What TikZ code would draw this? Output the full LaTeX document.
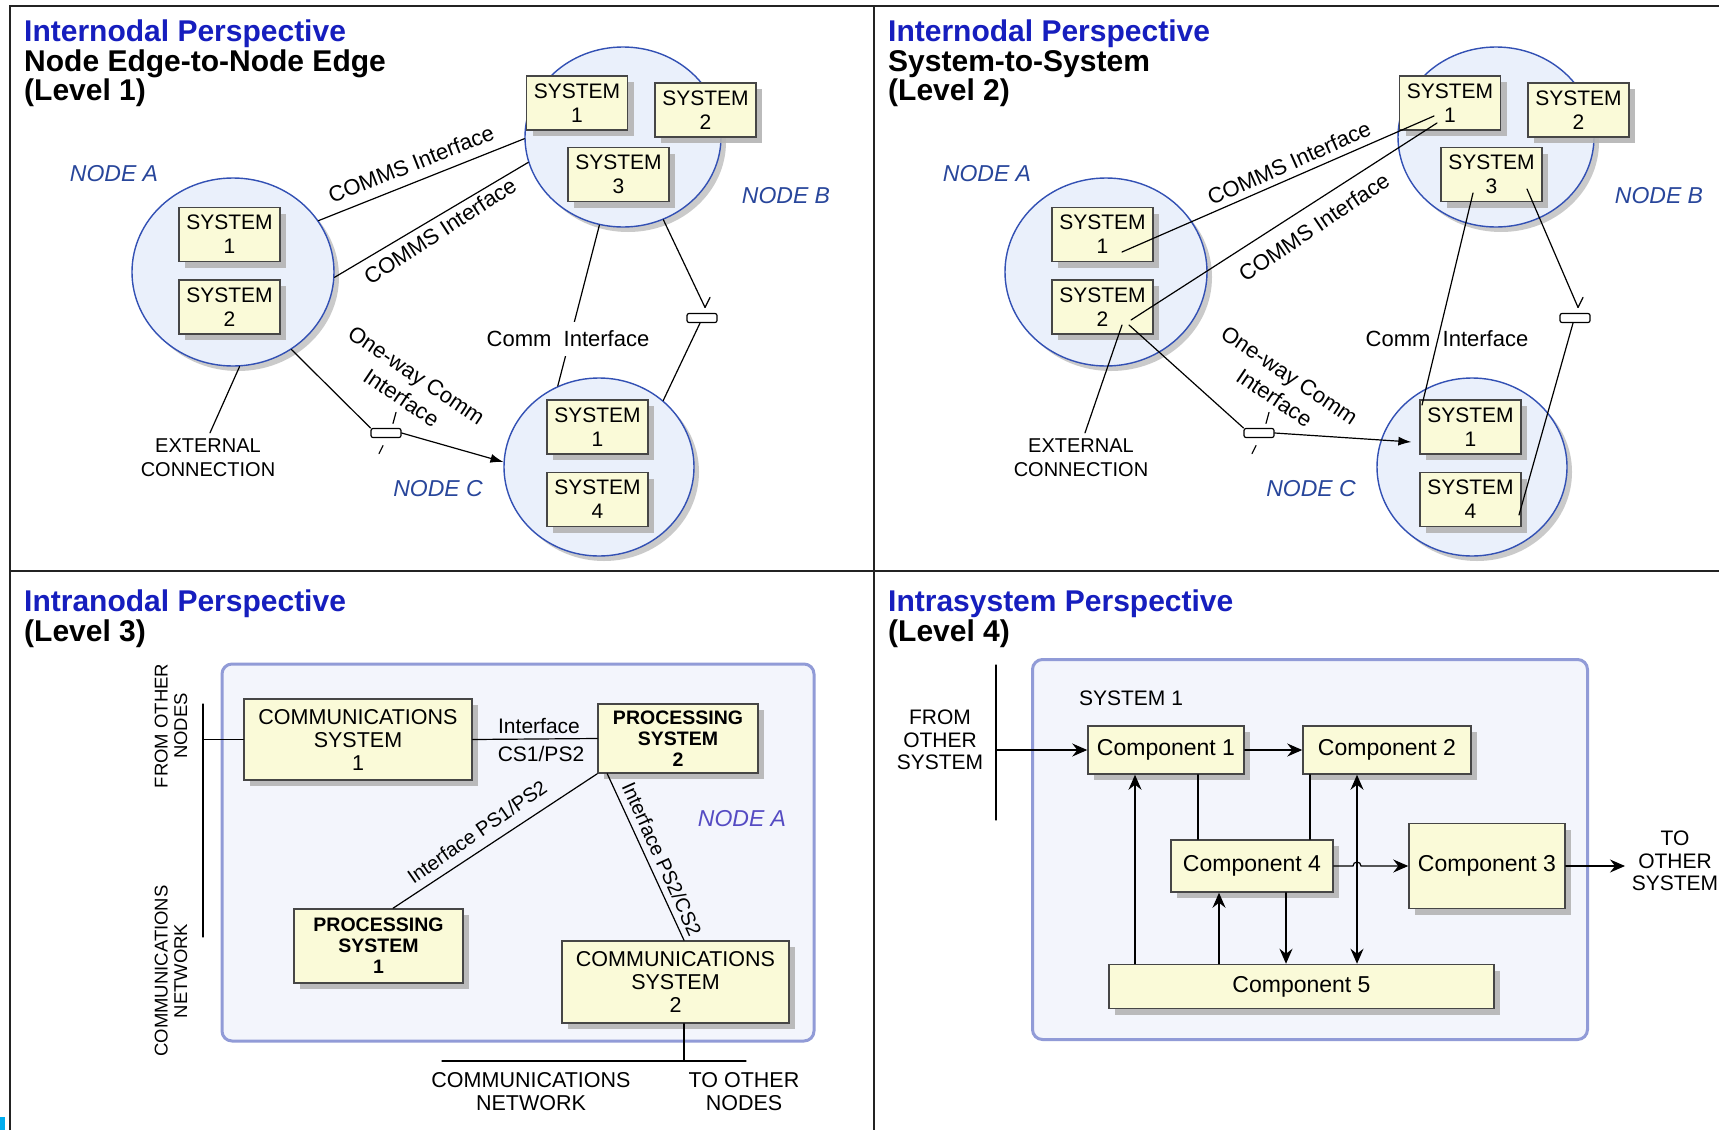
\documentclass[tikz,border=0pt]{standalone}
\usepackage{fontspec}
\setmainfont{Liberation Sans}
\usetikzlibrary{shapes.geometric,calc,arrows.meta,shadows}

\definecolor{boxfill}{RGB}{250,250,216}
\definecolor{boxedge}{RGB}{70,70,70}
\definecolor{shadowgray}{RGB}{180,180,180}
\definecolor{circfill}{RGB}{234,240,251}
\definecolor{circedge}{RGB}{50,80,180}
\definecolor{bigfill}{RGB}{243,245,252}
\definecolor{bigedge}{RGB}{145,155,215}
\definecolor{ttlblue}{RGB}{22,30,190}
\definecolor{nodeblue}{RGB}{40,70,155}
\definecolor{nodeviolet}{RGB}{85,75,195}
\definecolor{framegray}{RGB}{35,35,35}

\newcommand\ttlfnt{\fontsize{30}{30}\selectfont\bfseries}
\newcommand\sysfnt{\fontsize{21}{24}\selectfont}
\newcommand\lblfnt{\fontsize{22}{27}\selectfont}
\newcommand\extfnt{\fontsize{20}{24}\selectfont}
\newcommand\nodefnt{\fontsize{23}{23}\selectfont\itshape}
\newcommand\cmpfnt{\fontsize{23}{23}\selectfont}
\newcommand\commfnt{\fontsize{21.5}{23}\selectfont}
\newcommand\procfnt{\fontsize{19.5}{21}\selectfont\bfseries}
\newcommand\vertfnt{\fontsize{18.5}{19.5}\selectfont}
\newcommand\ioffnt{\fontsize{21}{22.5}\selectfont}

\tikzset{
  ttl/.style={anchor=base west, inner sep=0pt, font=\ttlfnt},
  conn/.style={line width=1.2pt, line cap=round},
  arr/.style={conn, -{Stealth[length=15pt,width=13pt,inset=5pt]}},
  owarr/.style={conn, -{Latex[length=13pt,width=9pt]}},
  lbl/.style={inner sep=0pt, font=\lblfnt, align=center},
  nodelbl/.style={inner sep=0pt, font=\nodefnt, text=nodeblue},
  boxshadow/.style={drop shadow={shadow xshift=6pt, shadow yshift=-6pt, fill=shadowgray, opacity=0.9}},
  sysbox/.style={draw=boxedge, fill=boxfill, line width=1.3pt, minimum width=101pt,
    minimum height=54pt, inner sep=0pt, align=center, font=\sysfnt, boxshadow},
  nodecircle/.style={ellipse, draw=circedge, fill=circfill, line width=1.4pt, inner sep=0pt,
    drop shadow={shadow xshift=5pt, shadow yshift=-5pt, fill=shadowgray, opacity=0.7}},
  capsule/.style={draw, line width=1.2pt, fill=white, rounded corners=2pt,
    minimum width=30pt, minimum height=9pt, inner sep=0pt},
  bigbox/.style={draw=bigedge, fill=bigfill, line width=3pt, rounded corners=10pt, inner sep=0pt},
  ibox/.style={draw=boxedge, fill=boxfill, line width=1.5pt, inner sep=0pt, align=center, boxshadow},
  frame/.style={draw=framegray, line width=2.5pt},
}

% the three nodes with their systems, shared by the two internodal views
\newcommand\netnodes[1]{%
  \node[nodecircle, minimum width=202pt, minimum height=188pt] (#1nA) at (233,272) {};
  \node[nodecircle, minimum width=196pt, minimum height=180pt] (#1nB) at (623,137) {};
  \node[nodecircle, minimum width=190pt, minimum height=178pt] (#1nC) at (599,467) {};
  \node[sysbox] (#1aS1) at (229.5,234.5) {SYSTEM\\1};
  \node[sysbox] (#1aS2) at (229.5,307) {SYSTEM\\2};
  \node[sysbox] (#1bS1) at (577,103) {SYSTEM\\1};
  \node[sysbox] (#1bS2) at (705.5,110) {SYSTEM\\2};
  \node[sysbox] (#1bS3) at (618.5,174.5) {SYSTEM\\3};
  \node[sysbox] (#1cS1) at (597.5,427) {SYSTEM\\1};
  \node[sysbox] (#1cS4) at (597.5,499.5) {SYSTEM\\4};
  \node[nodelbl] (#1lA) at (114,174) {NODE A};
  \node[nodelbl] (#1lB) at (786,196) {NODE B};
  \node[nodelbl] (#1lC) at (438,489) {NODE C};
  \node[lbl, font=\extfnt] (#1ext) at (208,458) {EXTERNAL\\CONNECTION};
  \node[lbl, rotate=-34] (#1owl) at (409,386.5) {One-way Comm\\Interface};
  \node[capsule] (#1symOW) at (386,433) {};
  \node[capsule] (#1symBC) at (702,318) {};
  \draw[conn] ([shift={(10,-15.5)}]#1symOW.north) -- ([shift={(7,-4.5)}]#1symOW.north);
  \draw[conn] ([shift={(-3,7.5)}]#1symOW.south) -- ([shift={(-7,15.5)}]#1symOW.south);
  \draw[conn] ([shift={(3,-5.5)}]#1symBC.north) -- ([shift={(8,-15.5)}]#1symBC.north);
}

\begin{document}
\begin{tikzpicture}[x=1pt,y=-1pt]
\useasboundingbox (0,0) rectangle (1719,1130);
\fill[white] (0,0) rectangle (1719,1130);

% ---------------- Level 1: node edge to node edge ----------------
\node[ttl, text=ttlblue] (t1a) at (24,41) {Internodal Perspective};
\node[ttl] (t1b) at (24,71) {Node Edge-to-Node Edge};
\node[ttl] (t1c) at (24,100) {(Level 1)};

\netnodes{p}
\draw[conn] (pnA.31.5) -- (pnB.181.7);
\draw[conn] (pnA.-3.3) -- (pnB.195);
\node[lbl, rotate=21.6] (pc1) at (411,164) {COMMS Interface};
\node[lbl, rotate=33] (pc2) at (440,231) {COMMS Interface};
\draw[conn] (pnB.255) -- (pnC.117);
\node[lbl, fill=white, inner xsep=2pt, inner ysep=9pt] (pci) at (568,339) {Comm\ \ Interface};
\draw[conn] (pnB.296) -- ([shift={(3,-5.5)}]psymBC.north);
\draw[conn] ([shift={(-2,0)}]psymBC.south) -- (pnC.46);
\draw[conn] (pnA.-53) -- (psymOW.north west);
\draw[owarr] (psymOW.east) -- (pnC.177.6);
\draw[conn] (pnA.-86) -- ([shift={(2,-6)}]pext.north);

% ---------------- Level 2: system to system ----------------
\node[ttl, text=ttlblue] (t2a) at (888,41) {Internodal Perspective};
\node[ttl] (t2b) at (888,71) {System-to-System};
\node[ttl] (t2c) at (888,100) {(Level 2)};

\begin{scope}[xshift=873pt]
\netnodes{q}
\draw[conn] ($(qaS1)+(19.5,17.5)$) -- ($(qbS1)+(-16,13)$);
\draw[conn] ($(qaS2)+(28.5,13)$) -- ($(qbS1)+(-13,20)$);
\node[lbl, rotate=24] (qc1) at (416,163) {COMMS Interface};
\node[lbl, rotate=34] (qc2) at (441,227) {COMMS Interface};
\draw[conn] ($(qbS3)+(-18.5,18.5)$) -- ($(qcS1)+(-48.5,-22)$);
\node[lbl] (qci) at (574,339) {Comm\ \ Interface};
\draw[conn] ($(qbS3)+(35.5,14.5)$) -- ([shift={(3,-5.5)}]qsymBC.north);
\draw[conn] ([shift={(-2,0)}]qsymBC.south) -- ($(qcS4)+(48.5,15.5)$);
\draw[conn] ($(qaS2)+(26.5,18)$) -- (qsymOW.north west);
\draw[owarr] (qsymOW.east) -- ([shift={(-8,15)}]qcS1.west);
\draw[conn] ($(qaS2)+(19.5,18)$) -- ([shift={(4,-6)}]qext.north);
\end{scope}

% ---------------- Level 3: intranodal ----------------
\node[ttl, text=ttlblue] (t3a) at (24,611) {Intranodal Perspective};
\node[ttl] (t3b) at (24,641) {(Level 3)};

\node[bigbox, minimum width=592pt, minimum height=377pt] (nodeAbox) at (518,852.5) {};
\node[ibox, font=\commfnt, minimum width=228pt, minimum height=81pt] (cs1) at (358,739.5) {COMMUNICATIONS\\SYSTEM\\1};
\node[ibox, font=\procfnt, minimum width=160pt, minimum height=69pt] (ps2) at (678,738.5) {PROCESSING\\SYSTEM\\2};
\node[ibox, font=\procfnt, minimum width=169pt, minimum height=74pt] (ps1) at (378.5,946) {PROCESSING\\SYSTEM\\1};
\node[ibox, font=\commfnt, minimum width=227pt, minimum height=82pt] (cs2) at (675.5,982) {COMMUNICATIONS\\SYSTEM\\2};
\node[nodelbl, text=nodeviolet] (l3A) at (742,819) {NODE A};

\draw[conn] (cs1.east) -- (ps2.west);
\node[lbl, font=\ioffnt] (if1a) at (539,726) {Interface};
\node[lbl, font=\ioffnt] (if1b) at (541,754) {CS1/PS2};
\draw[conn] (ps2.south west) -- ($(ps1.north)+(14.5,0)$);
\node[lbl, font=\extfnt, rotate=34.8] (if2) at (477,832) {Interface PS1/PS2};
\coordinate (cs2top) at ($(cs2.north)+(8.5,0)$);
\draw[conn] ($(ps2.south west)+(10,0)$) -- (cs2top);
\node[lbl, font=\extfnt, rotate=-65.7] (if3) at (662,859) {Interface PS2/CS2};

\coordinate (fnTop) at (203,704);
\coordinate (fnBot) at (203,937);
\draw[conn] (fnTop) -- (fnBot);
\draw[conn] (cs1.west -| fnTop) -- (cs1.west);
\node[lbl, font=\vertfnt, rotate=90] (fon) at (171,726) {FROM OTHER\\NODES};
\node[lbl, font=\vertfnt, rotate=90] (cnv) at (171,971) {COMMUNICATIONS\\NETWORK};

\coordinate (busL) at (442,1061);
\coordinate (busR) at (746,1061);
\coordinate (cs2drop) at ($(cs2.south)+(8.5,0)$);
\draw[conn] (busL) -- (busR);
\draw[conn] (cs2drop) -- (cs2drop |- busL);
\node[lbl, font=\commfnt] (cnb) at (531,1092) {COMMUNICATIONS\\NETWORK};
\node[lbl, font=\commfnt] (ton) at (744,1092) {TO OTHER\\NODES};

% ---------------- Level 4: intrasystem ----------------
\node[ttl, text=ttlblue] (t4a) at (888,611) {Intrasystem Perspective};
\node[ttl] (t4b) at (888,641) {(Level 4)};

\node[bigbox, minimum width=555pt, minimum height=380pt] (sysAbox) at (1310,849.5) {};
\node[lbl, font=\ioffnt] (s1lbl) at (1131,698) {SYSTEM 1};
\node[ibox, font=\cmpfnt, minimum width=156pt, minimum height=48pt] (k1) at (1166,750) {Component 1};
\node[ibox, font=\cmpfnt, minimum width=168pt, minimum height=48pt] (k2) at (1387,750) {Component 2};
\node[ibox, font=\cmpfnt, minimum width=162pt, minimum height=52pt] (k4) at (1252,866) {Component 4};
\node[ibox, font=\cmpfnt, minimum width=156pt, minimum height=85pt] (k3) at (1487,866) {Component 3};
\node[ibox, font=\cmpfnt, minimum width=385pt, minimum height=44pt] (k5) at (1301.5,986.5) {Component 5};

\coordinate (inTop) at (996,665);
\coordinate (inBot) at (996,820);
\draw[conn] (inTop) -- (inBot);
\node[lbl, font=\ioffnt] (fos) at (940,740) {FROM\\OTHER\\SYSTEM};
\draw[arr] (inTop |- k1.west) -- (k1.west);
\draw[arr] (k1.east) -- (k2.west);

\coordinate (v1) at ($(k1.south)+(32,0)$);
\coordinate (v2) at ($(k2.south)+(-77,0)$);
\coordinate (v3) at ($(k5.north)+(-166.5,0)$);
\coordinate (v4) at ($(k5.north)+(-82.5,0)$);
\coordinate (v5) at ($(k4.south)+(34,0)$);
\coordinate (v6) at ($(k2.south)+(-30,0)$);
\draw[conn] (v1) -- (v1 |- k4.north);
\draw[conn] (v2) -- (v2 |- k4.north);
\draw[arr] (v3) -- (v3 |- k1.south);
\draw[arr] (v4) -- (v4 |- k4.south);
\draw[arr] (v5) -- (v5 |- k5.north);
\draw[conn, {Stealth[length=15pt,width=13pt,inset=5pt]}-{Stealth[length=15pt,width=13pt,inset=5pt]}] (v6) -- (v6 |- k5.north);

\coordinate (hop) at (v6 |- k4.east);
\draw[arr] (k4.east) -- ([xshift=-4pt]hop) arc[start angle=180, end angle=360, radius=4] -- (k3.west);
\coordinate (outP) at (1625,866);
\draw[arr] (k3.east) -- (outP);
\node[lbl, font=\ioffnt] (tos) at (1675,861) {TO\\OTHER\\SYSTEM};

% ---------------- panel frame ----------------
\draw[frame] (10,1130) -- (10,6) -- (1719,6);
\draw[frame] (874,6) -- (874,1130);
\draw[frame] (10,571) -- (1719,571);
\fill[cyan] (0,1117) rectangle (5,1130);
\end{tikzpicture}
\end{document}
